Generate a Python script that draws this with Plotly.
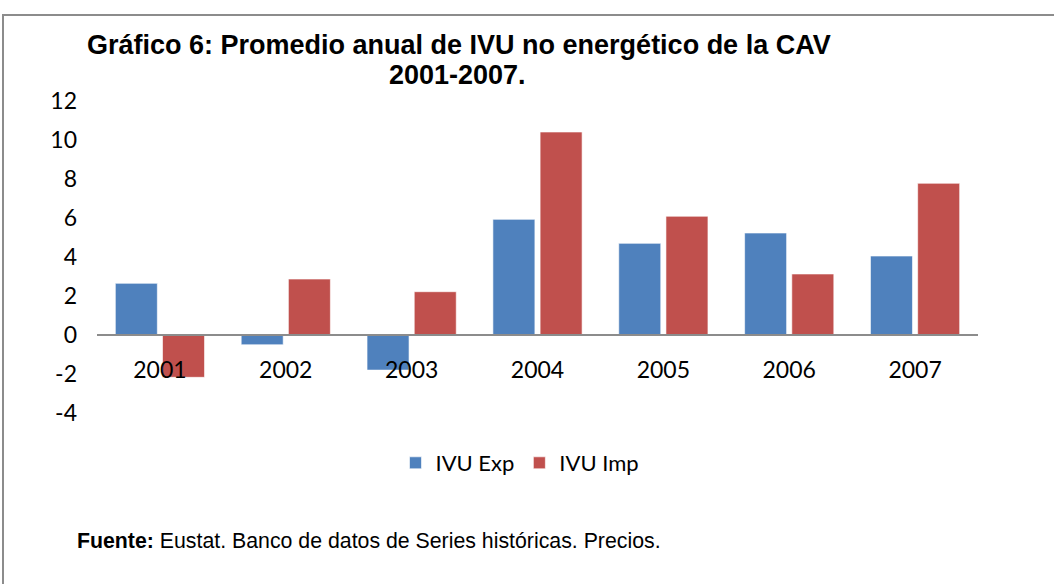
import plotly.graph_objects as go

years = ['2001', '2002', '2003', '2004', '2005', '2006', '2007']
ivu_exp = [2.65, -0.5, -1.8, 5.93, 4.7, 5.23, 4.05]
ivu_imp = [-2.17, 2.87, 2.22, 10.41, 6.09, 3.13, 7.78]
y_ticks = [-4, -2, 0, 2, 4, 6, 8, 10, 12]
y_labels = ['-4', '-2', '0', '2', '4', '6', '8', '10', '12']

fig = go.Figure()
fig.add_trace(go.Bar(
    x=years, y=ivu_exp, name='IVU Exp',
    marker=dict(color='#4F81BD', line=dict(color='rgba(255,255,255,0.6)', width=1)),
))
fig.add_trace(go.Bar(
    x=years, y=ivu_imp, name='IVU Imp',
    marker=dict(color='#C0504D', line=dict(color='rgba(255,255,255,0.6)', width=1)),
))

# frame around the chart area
fig.add_shape(type='rect', xref='paper', yref='paper',
              x0=-0.1067, x1=1.3, y0=-0.8, y1=1.2756,
              line=dict(color='#8c8c8c', width=2), fillcolor='rgba(0,0,0,0)')

title_font = dict(family='Liberation Sans', size=27, color='black')
fig.add_annotation(
    text='<b>Gráfico 6: Promedio anual de IVU no energético de la CAV</b>',
    xref='paper', yref='paper', x=(459 - 97) / 881, y=(413 - 45) / 312,
    xanchor='center', yanchor='middle', showarrow=False, font=title_font,
)
fig.add_annotation(
    text='<b>2001-2007.</b>',
    xref='paper', yref='paper', x=(457 - 97) / 881, y=(413 - 75) / 312,
    xanchor='center', yanchor='middle', showarrow=False, font=title_font,
)
fig.add_annotation(
    text='<b>Fuente:</b> Eustat. Banco de datos de Series históricas. Precios.',
    xref='paper', yref='paper', x=(75 - 97) / 881, y=(413 - 541) / 312,
    xanchor='left', yanchor='middle', showarrow=False,
    font=dict(family='Liberation Sans', size=21.3, color='black'),
)

fig.update_layout(
    width=1054, height=584,
    margin=dict(l=97, r=76, t=101, b=171),
    paper_bgcolor='white', plot_bgcolor='white',
    barmode='group', bargap=0.25, bargroupgap=0.11,
    font=dict(family='Lato', size=23, color='black'),
    showlegend=True,
    legend=dict(orientation='h', x=(520 - 97) / 881, xanchor='center',
                y=(413 - 463) / 312, yanchor='middle',
                font=dict(family='Lato', size=22), itemwidth=30,
                traceorder='normal'),
    xaxis=dict(anchor='free', position=0.25, showline=True, linecolor='#8c8c8c',
               linewidth=2, ticks='', showgrid=False, ticklabelstandoff=14,
               tickfont=dict(size=23)),
    yaxis=dict(range=[-4, 12], tickvals=y_ticks, ticktext=y_labels, showgrid=False,
               zeroline=False, showline=False, ticks='', tickfont=dict(size=23),
               ticklabelstandoff=19),
)

fig.write_html('out.html', config={'displayModeBar': False},
               post_script="document.body.style.margin='0';document.body.style.overflow='hidden';")
